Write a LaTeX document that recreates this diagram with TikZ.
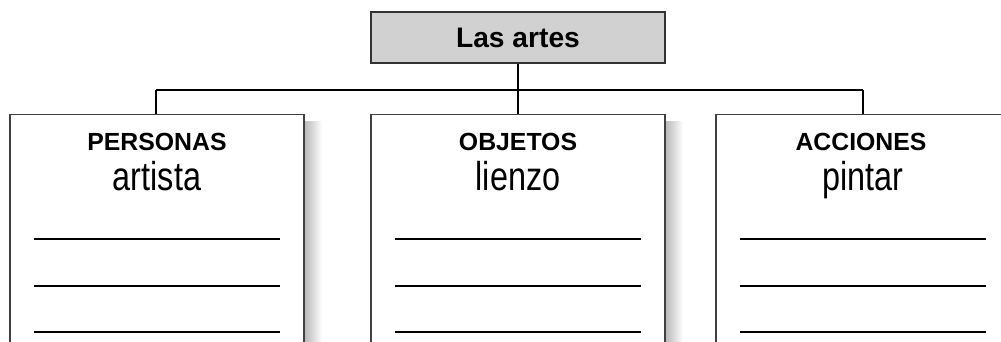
\documentclass[tikz,border=0pt]{standalone}
\usepackage{graphicx}
\usepackage{fontspec}
\setmainfont{Liberation Sans}
\begin{document}
\begin{tikzpicture}[x=1pt,y=-1pt,
  catbox/.style={draw=black!75, line width=1.5pt, fill=white, minimum width=294pt, minimum height=250pt, inner sep=0pt, anchor=north},
  topbox/.style={draw=black!80, line width=1.6pt, fill=black!18, minimum width=294pt, minimum height=51pt, inner sep=0pt},
  conn/.style={draw=black, line width=1.8pt},
  rule/.style={draw=black, line width=2pt},
  head/.style={anchor=base, inner sep=0pt, font=\bfseries\fontsize{24.8}{26}\selectfont},
  word/.style={anchor=base, inner sep=0pt, font=\fontsize{36}{38}\selectfont},
  shadowst/.style={left color=black!28, right color=white, draw=none}
]
\useasboundingbox (0,0) rectangle (1001,342);
\clip (0,0) rectangle (1001,342);
% shadows
\shade[shadowst] (304,122) rectangle (322,350);
\shade[shadowst] (665,122) rectangle (683,350);
% top box
\node[topbox] (top) at (518,37.5) {\bfseries\fontsize{28.2}{30}\selectfont Las artes};
% category boxes
\node[catbox] (b1) at (157,114) {};
\node[catbox] (b2) at (518,114) {};
\node[catbox] (b3) at (863,114) {};
% connectors
\coordinate (j) at (518,90);
\coordinate (jl) at (156,90);
\coordinate (jr) at (863,90);
\draw[conn] (top.south) -- (b2.north);
\draw[conn] (jl) -- (jr);
\draw[conn] (jl) -- (jl |- b1.north);
\draw[conn] (jr) -- (jr |- b3.north);
% texts
\node[head] (h1) at (157,150) {PERSONAS};
\node[word] (w1) at (157,190) {\scalebox{0.9}[1.12]{artista}};
\node[head] (h2) at (518,150) {OBJETOS};
\node[word] (w2) at (518,190) {\scalebox{0.9}[1.12]{lienzo}};
\node[head] (h3) at (861,150) {ACCIONES};
\node[word] (w3) at (863,190) {\scalebox{0.9}[1.12]{pintar}};
% writing lines
\foreach \y in {239,285.7,332} {
  \draw[rule] (34,\y) -- (280,\y);
  \draw[rule] (395,\y) -- (641,\y);
  \draw[rule] (740,\y) -- (986,\y);
}
\end{tikzpicture}
\end{document}
